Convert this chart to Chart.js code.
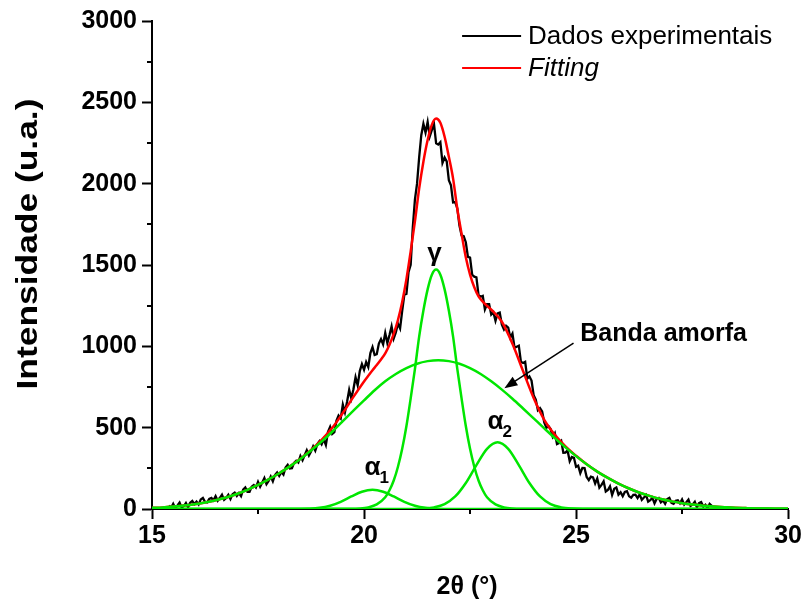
<!DOCTYPE html>
<html>
<head>
<meta charset="utf-8">
<title>Difratograma</title>
<script src="https://cdn.jsdelivr.net/npm/chart.js@4.4.0/dist/chart.umd.min.js"></script>
<style>
  html, body { margin: 0; padding: 0; background: #fff; }
  #wrap { width: 804px; height: 603px; }
</style>
</head>
<body>
<div id="wrap"><canvas id="chart" width="804" height="603"></canvas></div>
<script>
// Experimental pattern: one reading every 0.05 degree starting at 15.4
const expStart = 15.4;
const expStep = 0.05;
const expIntensity = [
  22, 7, 32, 5, 22, 40, 8, 18, 37, 11, 39, 50, 30, 45, 28, 59, 68, 44, 41, 62,
  68, 53, 79, 51, 69, 88, 56, 68, 87, 61, 90, 100, 80,
  98, 79, 119, 132, 106, 106, 137, 147, 132, 167, 137, 163, 190, 153, 172, 200, 170,
  209, 225, 203, 227, 211, 255, 272, 249, 251, 284, 297, 286, 326, 300, 330, 361, 329,
  353, 385, 358, 399, 418, 398,
  428, 393, 475, 505, 461, 472, 543, 574, 557, 642, 595, 659, 733, 679, 736, 810, 760,
  848, 891, 856, 904, 873, 959, 995, 947, 952, 1017, 1044, 1012, 1082, 1020, 1069, 1123,
  1049, 1086, 1140, 1110, 1218,
  1317, 1322, 1457, 1501, 1732, 1902, 2000, 2162, 2298, 2368, 2314, 2379, 2290, 2330,
  2365, 2248, 2241, 2255, 2128, 2161, 2137, 2022,
  1990, 1885, 1887, 1848, 1742, 1682, 1677, 1640, 1550, 1545, 1440, 1428, 1424, 1315,
  1305, 1310, 1227, 1260, 1260, 1195, 1209, 1157, 1203, 1208, 1133, 1104, 1126, 1115,
  1054, 1078, 991, 998, 1004, 905, 898, 905, 802, 815, 790, 700,
  672, 607, 620, 600, 532, 500, 509, 491, 444, 466, 399, 406, 419, 346, 347, 360, 294,
  320, 315, 259, 266, 220, 253, 252, 197, 178, 199, 194, 157, 188, 131, 148, 170, 107,
  117, 140, 86, 124, 132, 88,
  103, 79, 105, 110, 78, 70, 87, 88, 67, 90, 56, 70, 86, 45, 54, 69, 35, 62, 68, 41,
  53, 32, 61, 68, 38, 32, 51, 54, 35, 59, 27, 42, 58, 19, 28, 44, 10, 36, 43, 15,
  26, 4, 32, 20
];

// Fitted envelope
const fitX = [15, 15.25, 15.5, 15.75, 16, 16.25, 16.5, 16.75, 17, 17.25, 17.5, 17.75,
  18, 18.25, 18.5, 18.75, 19, 19.25, 19.5, 19.75,
  20.0, 20.1, 20.2, 20.3, 20.4, 20.5, 20.6, 20.7, 20.8, 20.9, 21.0, 21.1, 21.2, 21.3,
  21.4, 21.5, 21.6, 21.7, 21.8, 21.9, 22.0, 22.1, 22.2, 22.3, 22.4, 22.5, 22.6, 22.7,
  22.8, 22.9, 23.0,
  23.25, 23.5, 23.75, 24, 24.25, 24.5, 24.75, 25, 25.25, 25.5, 25.75, 26, 26.25, 26.5,
  26.75, 27, 27.25, 27.5, 27.75, 28, 28.25, 28.5, 28.75, 29, 29.25, 29.5, 29.75, 30];
const fitY = [7, 10, 15, 21, 29, 40, 54, 71, 92, 118, 148, 182,
  220, 262, 309, 363, 425, 499, 590, 689,
  784, 819, 853, 885, 919, 957, 1010, 1077, 1162, 1273, 1413, 1584, 1768, 1970,
  2135, 2268, 2363, 2400, 2374, 2288, 2165, 2031, 1844, 1692, 1547, 1441, 1363, 1307,
  1275, 1249, 1226,
  1151, 1016, 848, 682, 548, 456, 385, 327, 275, 230, 191, 156, 126, 100,
  79, 61, 47, 36, 27, 20, 15, 11, 7.5, 5.5, 3.7, 2.5, 1.7, 1.1];

// Amorphous band
const bandX = [15, 15.25, 15.5, 15.75, 16, 16.25, 16.5, 16.75, 17, 17.25, 17.5, 17.75,
  18, 18.25, 18.5, 18.75, 19, 19.25, 19.5, 19.75, 20, 20.25, 20.5, 20.75, 21, 21.25,
  21.5, 21.75, 22, 22.25, 22.5, 22.75, 23, 23.25, 23.5, 23.75, 24, 24.25, 24.5, 24.75,
  25, 25.25, 25.5, 25.75, 26, 26.25, 26.5, 26.75, 27, 27.25, 27.5, 27.75, 28, 28.25,
  28.5, 28.75, 29, 29.25, 29.5, 29.75, 30];
const bandY = [7, 10, 15, 21, 29, 40, 54, 71, 92, 118, 148, 182,
  220, 262, 308, 360, 415, 475, 540, 605, 668, 730, 785, 830, 866, 893,
  909, 915, 909, 893, 866, 830, 785, 734, 678, 618, 557, 496, 436, 379,
  325, 275, 230, 191, 156, 126, 100, 79, 61, 47, 36, 27, 20, 15,
  11, 7.5, 5.5, 3.7, 2.5, 1.7, 1.1];

// Gamma phase peak
const gammaX = [15, 19.7, 19.9, 20.1, 20.3, 20.5, 20.6, 20.7, 20.8, 20.9, 21.0, 21.1,
  21.2, 21.3, 21.4, 21.5, 21.6, 21.7, 21.8, 21.9, 22.0, 22.1, 22.2, 22.3, 22.4, 22.5,
  22.6, 22.7, 22.8, 22.9, 23.1, 23.3, 23.5, 23.7, 30];
const gammaY = [0, 1, 3, 10, 28, 72, 115, 175, 260, 370, 510, 680,
  860, 1060, 1220, 1350, 1440, 1472, 1440, 1350, 1220, 1060, 860, 680, 510, 370,
  260, 175, 115, 72, 28, 10, 3, 1, 0];

// Alpha phase peaks
const alpha1X = [15, 18.2, 18.45, 18.7, 18.95, 19.2, 19.45, 19.7, 19.95, 20.2, 20.45,
  20.7, 20.95, 21.2, 21.45, 21.7, 21.95, 22.2, 30];
const alpha1Y = [0, 0, 0.5, 2, 7, 20, 44, 77, 106, 118, 106, 77, 44, 20, 7, 2, 0.5, 0, 0];
const alpha2X = [15, 21.15, 21.4, 21.65, 21.9, 22.15, 22.4, 22.65, 22.9, 23.15, 23.4,
  23.65, 23.9, 24.15, 24.4, 24.65, 24.9, 25.15, 30];
const alpha2Y = [0, 0.5, 2.5, 10, 30, 77, 160, 270, 370, 410, 370, 270, 160, 77, 30, 10, 2.5, 0.5, 0];

const yMinorTicks = [250, 750, 1250, 1750, 2250, 2750];
const xMinorTicks = [17.5, 22.5, 27.5];

// Text placed in data coordinates
const peakLabels = [
  { text: 'γ', sub: '', x: 21.66, y: 1566 },
  { text: 'α', sub: '1', x: 20.2, y: 252 },
  { text: 'α', sub: '2', x: 23.1, y: 534 }
];
const bandLabel = { text: 'Banda amorfa', x: 25.1, y: 1075 };
const bandArrow = { x1: 24.94, y1: 1019, x2: 23.31, y2: 743 };

const FONT = 'Arial, "Liberation Sans", sans-serif';
const GREEN = '#00e600';

function toPoints(xs, ys) {
  return xs.map((x, i) => ({ x: x, y: ys[i] }));
}

const expPoints = expIntensity.map((v, i) => ({ x: +(expStart + i * expStep).toFixed(2), y: v }));

const decorPlugin = {
  id: 'decor',
  afterDraw(chart) {
    const ctx = chart.ctx;
    const area = chart.chartArea;
    const xs = chart.scales.x;
    const ys = chart.scales.y;
    ctx.save();

    // minor ticks
    ctx.strokeStyle = '#000';
    ctx.lineWidth = 2;
    yMinorTicks.forEach(v => {
      const py = Math.round(ys.getPixelForValue(v));
      ctx.beginPath();
      ctx.moveTo(area.left - 5, py);
      ctx.lineTo(area.left, py);
      ctx.stroke();
    });
    xMinorTicks.forEach(v => {
      const px = Math.round(xs.getPixelForValue(v));
      ctx.beginPath();
      ctx.moveTo(px, area.bottom);
      ctx.lineTo(px, area.bottom + 5);
      ctx.stroke();
    });

    ctx.fillStyle = '#000';

    // axis titles
    ctx.font = 'bold 25px ' + FONT;
    ctx.textAlign = 'center';
    ctx.textBaseline = 'middle';
    ctx.fillText('2θ (°)', (area.left + area.right) / 2 - 3, area.bottom + 78);

    ctx.save();
    ctx.font = 'bold 29px ' + FONT;
    ctx.translate(29, (area.top + area.bottom) / 2 - 21);
    ctx.rotate(-Math.PI / 2);
    ctx.scale(1.22, 1);
    ctx.fillText('Intensidade (u.a.)', 0, 0);
    ctx.restore();

    // legend
    const lx = area.right - 326;
    let ly = area.top + 15;
    ctx.textAlign = 'left';
    [0, 1].forEach(i => {
      const ds = chart.data.datasets[i];
      ctx.strokeStyle = ds.borderColor;
      ctx.lineWidth = 2;
      ctx.beginPath();
      ctx.moveTo(lx, ly);
      ctx.lineTo(lx + 59, ly);
      ctx.stroke();
      ctx.font = (i === 1 ? 'italic ' : '') + '26px ' + FONT;
      ctx.fillStyle = '#000';
      ctx.fillText(ds.label, lx + 66, ly + 1);
      ly += 32;
    });

    // peak labels
    peakLabels.forEach(p => {
      const px = xs.getPixelForValue(p.x);
      const py = ys.getPixelForValue(p.y);
      ctx.font = 'bold 26px ' + FONT;
      ctx.textAlign = 'center';
      ctx.fillText(p.text, px, py);
      if (p.sub) {
        const w = ctx.measureText(p.text).width;
        ctx.font = 'bold 17px ' + FONT;
        ctx.textAlign = 'left';
        ctx.fillText(p.sub, px + w / 2 - 1, py + 10);
      }
    });

    // band label and arrow
    ctx.font = 'bold 25px ' + FONT;
    ctx.textAlign = 'left';
    ctx.fillText(bandLabel.text, xs.getPixelForValue(bandLabel.x), ys.getPixelForValue(bandLabel.y));
    const ax1 = xs.getPixelForValue(bandArrow.x1), ay1 = ys.getPixelForValue(bandArrow.y1);
    const ax2 = xs.getPixelForValue(bandArrow.x2), ay2 = ys.getPixelForValue(bandArrow.y2);
    const ang = Math.atan2(ay2 - ay1, ax2 - ax1);
    const headLen = 13, headW = 5;
    ctx.strokeStyle = '#000';
    ctx.lineWidth = 1.5;
    ctx.beginPath();
    ctx.moveTo(ax1, ay1);
    ctx.lineTo(ax2 - Math.cos(ang) * headLen * 0.8, ay2 - Math.sin(ang) * headLen * 0.8);
    ctx.stroke();
    ctx.beginPath();
    ctx.moveTo(ax2, ay2);
    ctx.lineTo(ax2 - Math.cos(ang) * headLen - Math.sin(ang) * headW, ay2 - Math.sin(ang) * headLen + Math.cos(ang) * headW);
    ctx.lineTo(ax2 - Math.cos(ang) * headLen + Math.sin(ang) * headW, ay2 - Math.sin(ang) * headLen - Math.cos(ang) * headW);
    ctx.closePath();
    ctx.fill();

    ctx.restore();
  }
};

// green components sit on top, then the fit, then the measured data
const greenCurve = (label, xs, ys) => ({
  label: label,
  data: toPoints(xs, ys),
  borderColor: GREEN,
  borderWidth: 2.5,
  pointRadius: 0,
  cubicInterpolationMode: 'monotone',
  fill: false,
  order: 1
});

new Chart(document.getElementById('chart'), {
  type: 'line',
  data: {
    datasets: [
      {
        label: 'Dados experimentais',
        data: expPoints,
        borderColor: '#000000',
        borderWidth: 2.3,
        pointRadius: 0,
        tension: 0,
        fill: false,
        order: 3
      },
      {
        label: 'Fitting',
        data: toPoints(fitX, fitY),
        borderColor: '#ff0000',
        borderWidth: 2.5,
        pointRadius: 0,
        cubicInterpolationMode: 'monotone',
        fill: false,
        order: 2
      },
      greenCurve('Banda amorfa', bandX, bandY),
      greenCurve('γ', gammaX, gammaY),
      greenCurve('α1', alpha1X, alpha1Y),
      greenCurve('α2', alpha2X, alpha2Y)
    ]
  },
  options: {
    responsive: false,
    animation: false,
    devicePixelRatio: 1,
    layout: { padding: { left: 0, right: 15, top: 21, bottom: 0 } },
    plugins: {
      legend: { display: false },
      tooltip: { enabled: false }
    },
    scales: {
      x: {
        type: 'linear',
        min: 15,
        max: 30,
        ticks: {
          stepSize: 5,
          color: '#000',
          padding: 2,
          font: { family: FONT, size: 25, weight: 'bold' },
          callback: v => String(v)
        },
        grid: { drawOnChartArea: false, drawTicks: true, tickLength: 10, tickColor: '#000', tickWidth: 2 },
        border: { display: true, color: '#000', width: 2 },
        afterFit(scale) { scale.height = 94; }
      },
      y: {
        type: 'linear',
        min: 0,
        max: 3000,
        ticks: {
          stepSize: 500,
          color: '#000',
          padding: 5,
          font: { family: FONT, size: 25, weight: 'bold' },
          callback: v => String(v)
        },
        grid: { drawOnChartArea: false, drawTicks: true, tickLength: 10, tickColor: '#000', tickWidth: 2 },
        border: { display: true, color: '#000', width: 2 },
        afterFit(scale) { scale.width = 152; }
      }
    }
  },
  plugins: [decorPlugin]
});
</script>
</body>
</html>
